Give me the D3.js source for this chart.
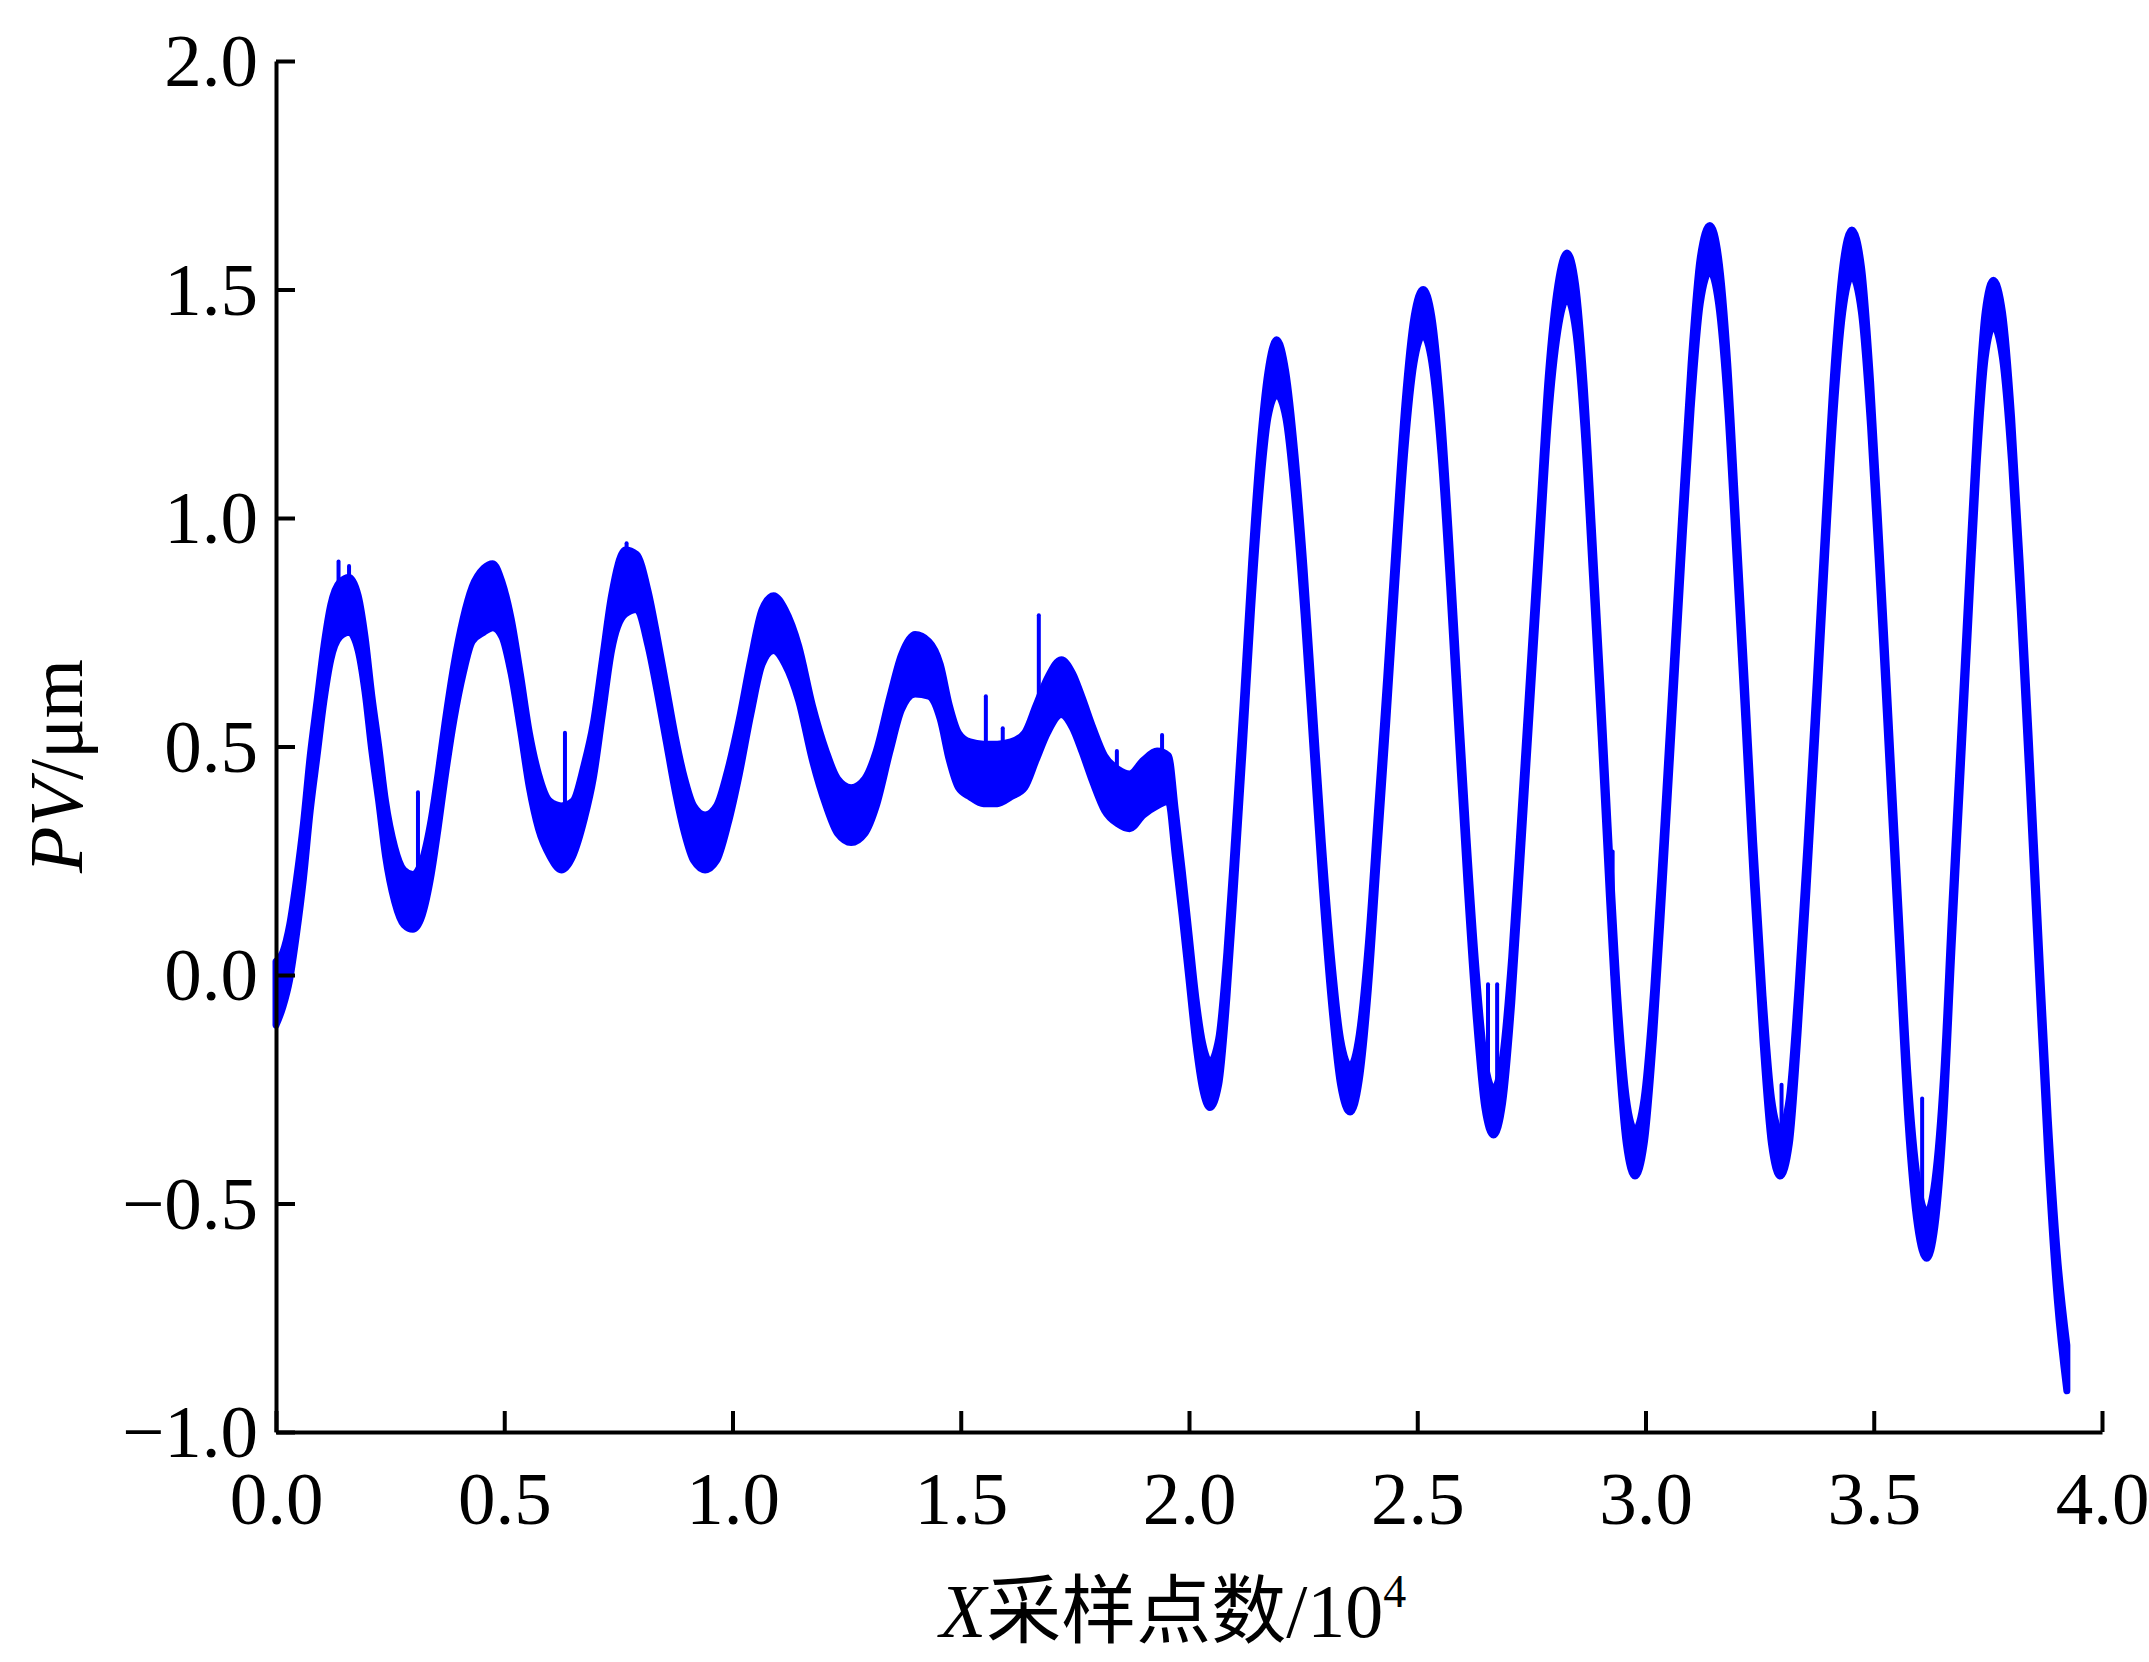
<!DOCTYPE html>
<html>
<head>
<meta charset="utf-8">
<script src="https://cdn.jsdelivr.net/npm/d3@7"></script>
<style>
  html, body { margin: 0; padding: 0; background: #fff; }
  text { font-family: "Liberation Serif", "Noto Sans CJK SC", serif; fill: #000; }
</style>
</head>
<body>
<div id="chart"></div>
<script>
// sample position (x 10^4), centre of the trace and half width of the noise band (um)
const sampleX = [
  0.000, 0.015, 0.030, 0.045, 0.060, 0.075, 0.090, 0.105, 0.120, 0.140, 0.160, 0.180, 0.195, 0.210, 0.225, 0.240,
  0.260, 0.280, 0.300, 0.320, 0.340, 0.355, 0.370, 0.390, 0.410, 0.430, 0.455, 0.475, 0.495, 0.515, 0.535, 0.555,
  0.575, 0.600, 0.625, 0.650, 0.675, 0.695, 0.715, 0.735, 0.765, 0.790, 0.815, 0.835, 0.855, 0.875, 0.895, 0.915,
  0.940, 0.965, 0.990, 1.015, 1.040, 1.065, 1.090, 1.115, 1.145, 1.175, 1.205, 1.230, 1.260, 1.290, 1.315, 1.345,
  1.370, 1.400, 1.430, 1.455, 1.475, 1.495, 1.520, 1.550, 1.580, 1.610, 1.640, 1.665, 1.690, 1.720, 1.745, 1.765,
  1.790, 1.815, 1.845, 1.870, 1.900, 1.930, 1.955, 1.970, 1.985, 2.000, 2.015, 2.030, 2.046, 2.065, 2.083, 2.100,
  2.119, 2.137, 2.155, 2.173, 2.192, 2.212, 2.232, 2.252, 2.272, 2.292, 2.312, 2.332, 2.353, 2.373, 2.393, 2.413,
  2.433, 2.453, 2.473, 2.493, 2.513, 2.532, 2.552, 2.571, 2.590, 2.609, 2.629, 2.648, 2.667, 2.687, 2.707, 2.727,
  2.747, 2.767, 2.787, 2.808, 2.828, 2.847, 2.865, 2.884, 2.903, 2.921, 2.940, 2.958, 2.977, 2.997, 3.018, 3.038,
  3.059, 3.079, 3.100, 3.120, 3.141, 3.160, 3.180, 3.199, 3.218, 3.237, 3.257, 3.276, 3.295, 3.315, 3.334, 3.354,
  3.374, 3.393, 3.413, 3.432, 3.452, 3.473, 3.493, 3.514, 3.534, 3.555, 3.575, 3.596, 3.616, 3.634, 3.653, 3.671,
  3.689, 3.707, 3.726, 3.744, 3.762, 3.782, 3.802, 3.822, 3.842, 3.862, 3.882, 3.902, 3.923
];
const pvMid = [
  -0.04, -0.01, 0.05, 0.15, 0.27, 0.42, 0.54, 0.66, 0.75, 0.80, 0.81, 0.77, 0.68, 0.55, 0.44, 0.32,
  0.22, 0.17, 0.16, 0.19, 0.28, 0.38, 0.49, 0.62, 0.72, 0.79, 0.82, 0.83, 0.80, 0.72, 0.60, 0.47,
  0.38, 0.32, 0.30, 0.32, 0.40, 0.49, 0.63, 0.77, 0.86, 0.86, 0.78, 0.68, 0.57, 0.46, 0.37, 0.31,
  0.29, 0.31, 0.39, 0.50, 0.63, 0.74, 0.77, 0.74, 0.66, 0.53, 0.43, 0.37, 0.35, 0.37, 0.43, 0.55,
  0.64, 0.68, 0.67, 0.62, 0.53, 0.47, 0.45, 0.44, 0.44, 0.45, 0.47, 0.53, 0.59, 0.63, 0.60, 0.55,
  0.48, 0.42, 0.39, 0.38, 0.41, 0.43, 0.43, 0.31, 0.18, 0.04, -0.10, -0.20, -0.24, -0.19, 0.00, 0.25,
  0.55, 0.85, 1.10, 1.27, 1.33, 1.27, 1.09, 0.84, 0.54, 0.24, -0.01, -0.19, -0.25, -0.18, 0.02, 0.31,
  0.60, 0.91, 1.20, 1.39, 1.45, 1.39, 1.19, 0.90, 0.57, 0.25, -0.04, -0.24, -0.30, -0.23, -0.01, 0.30,
  0.62, 0.94, 1.26, 1.46, 1.53, 1.46, 1.25, 0.92, 0.57, 0.22, -0.11, -0.32, -0.39, -0.32, -0.08, 0.24,
  0.60, 0.95, 1.29, 1.52, 1.59, 1.52, 1.29, 0.95, 0.60, 0.24, -0.09, -0.32, -0.39, -0.32, -0.08, 0.24,
  0.59, 0.94, 1.28, 1.50, 1.58, 1.50, 1.25, 0.88, 0.50, 0.10, -0.27, -0.50, -0.57, -0.50, -0.27, 0.10,
  0.45, 0.80, 1.16, 1.40, 1.47, 1.40, 1.17, 0.83, 0.44, 0.03, -0.36, -0.66, -0.86
];
const pvSpread = [
  0.07, 0.06, 0.06, 0.06, 0.06, 0.06, 0.06, 0.06, 0.06, 0.06, 0.06, 0.06, 0.06, 0.06, 0.06, 0.06,
  0.06, 0.06, 0.06, 0.06, 0.06, 0.06, 0.06, 0.06, 0.06, 0.06, 0.07, 0.07, 0.06, 0.06, 0.06, 0.06,
  0.06, 0.06, 0.07, 0.06, 0.06, 0.06, 0.06, 0.06, 0.07, 0.06, 0.06, 0.06, 0.06, 0.06, 0.06, 0.06,
  0.06, 0.06, 0.06, 0.06, 0.06, 0.06, 0.06, 0.06, 0.06, 0.06, 0.06, 0.06, 0.06, 0.06, 0.06, 0.06,
  0.06, 0.065, 0.06, 0.06, 0.06, 0.06, 0.06, 0.065, 0.065, 0.06, 0.06, 0.06, 0.06, 0.06, 0.06, 0.06,
  0.06, 0.06, 0.06, 0.06, 0.06, 0.06, 0.05, 0.05, 0.05, 0.05, 0.05, 0.05, 0.05, 0.05, 0.05, 0.05,
  0.05, 0.05, 0.05, 0.05, 0.06, 0.05, 0.05, 0.05, 0.05, 0.05, 0.05, 0.05, 0.05, 0.05, 0.05, 0.05,
  0.05, 0.05, 0.05, 0.05, 0.05, 0.05, 0.05, 0.05, 0.05, 0.05, 0.05, 0.05, 0.05, 0.05, 0.05, 0.05,
  0.05, 0.05, 0.05, 0.05, 0.05, 0.05, 0.05, 0.05, 0.05, 0.05, 0.05, 0.05, 0.05, 0.05, 0.05, 0.05,
  0.05, 0.05, 0.05, 0.05, 0.05, 0.05, 0.05, 0.05, 0.05, 0.05, 0.05, 0.05, 0.05, 0.05, 0.05, 0.05,
  0.05, 0.05, 0.05, 0.05, 0.05, 0.05, 0.05, 0.05, 0.05, 0.05, 0.05, 0.05, 0.05, 0.05, 0.05, 0.05,
  0.05, 0.05, 0.05, 0.05, 0.05, 0.05, 0.05, 0.05, 0.05, 0.05, 0.05, 0.05, 0.05
];

// isolated spikes in the trace
const spikeX    = [0.137, 0.160, 0.311, 0.633, 0.768, 1.555, 1.592, 1.671, 1.805, 1.842, 1.941, 2.655, 2.675, 2.928, 3.298, 3.606];
const spikeBase = [0.80, 0.81, 0.17, 0.30, 0.86, 0.44, 0.44, 0.54, 0.44, 0.39, 0.43, -0.27, -0.28, 0.00, -0.39, -0.53];
const spikeTop  = [0.905, 0.895, 0.40, 0.53, 0.945, 0.61, 0.54, 0.787, 0.49, 0.49, 0.525, -0.02, -0.02, 0.27, -0.24, -0.27];

const xTicks = [0, 0.5, 1.0, 1.5, 2.0, 2.5, 3.0, 3.5, 4.0];
const yTicks = [-1.0, -0.5, 0, 0.5, 1.0, 1.5, 2.0];

const width = 2149, height = 1662;
const plotLeft = 276, plotRight = 2102, plotTop = 61, plotBottom = 1432;

const svg = d3.select("#chart").append("svg")
    .attr("width", width)
    .attr("height", height);

const x = d3.scaleLinear().domain([0, 4]).range([plotLeft, plotRight]);
const y = d3.scaleLinear().domain([-1, 2]).range([plotBottom, plotTop]);

const fmt = v => (v < 0 ? "\u2212" : "") + Math.abs(v).toFixed(1);

// trace
const pts = sampleX.map((d, i) => ({ x: d, lo: pvMid[i] - pvSpread[i], hi: pvMid[i] + pvSpread[i] }));

const band = d3.area()
    .x(d => x(d.x))
    .y0(d => y(d.lo))
    .y1(d => y(d.hi))
    .curve(d3.curveMonotoneX);

svg.append("path")
    .datum(pts)
    .attr("d", band)
    .attr("fill", "#0000ff")
    .attr("stroke", "#0000ff")
    .attr("stroke-width", 7)
    .attr("stroke-linejoin", "round");

svg.selectAll(".spike")
    .data(spikeX)
    .enter()
    .append("line")
    .attr("class", "spike")
    .attr("x1", d => x(d))
    .attr("x2", d => x(d))
    .attr("y1", (d, i) => y(spikeBase[i]))
    .attr("y2", (d, i) => y(spikeTop[i]))
    .attr("stroke", "#0000ff")
    .attr("stroke-width", 4)
    .attr("stroke-linecap", "round");

// axes
const xAxis = svg.append("g")
    .attr("transform", `translate(0,${plotBottom})`)
    .call(d3.axisBottom(x).tickValues(xTicks).tickFormat(fmt).tickSizeInner(-21).tickSizeOuter(0).tickPadding(0));

const yAxis = svg.append("g")
    .attr("transform", `translate(${plotLeft},0)`)
    .call(d3.axisLeft(y).tickValues(yTicks).tickFormat(fmt).tickSizeInner(-19).tickSizeOuter(0).tickPadding(0));

[xAxis, yAxis].forEach(g => {
  g.select(".domain").attr("stroke", "#000").attr("stroke-width", 4);
  g.selectAll(".tick line").attr("stroke", "#000").attr("stroke-width", 4);
  g.selectAll(".tick text")
      .attr("font-family", "Liberation Serif")
      .attr("font-size", 75)
      .attr("fill", "#000");
});

xAxis.selectAll(".tick text").attr("y", 92).attr("dy", null);
yAxis.selectAll(".tick text").attr("x", -18).attr("dy", "0.33em");

// axis titles
const xt = svg.append("text")
    .attr("x", 1173)
    .attr("y", 1637)
    .attr("text-anchor", "middle")
    .attr("font-size", 76);
xt.append("tspan").attr("font-style", "italic").text("X");
xt.append("tspan").attr("font-family", "Noto Sans CJK SC").attr("font-size", 75).text("采样点数");
xt.append("tspan").text("/10");
xt.append("tspan").attr("font-size", 46).attr("dy", -30).text("4");

const yt = svg.append("text")
    .attr("transform", "translate(82,766) rotate(-90)")
    .attr("text-anchor", "middle")
    .attr("font-size", 76);
yt.append("tspan").attr("font-style", "italic").text("PV");
yt.append("tspan").text("/\u03bcm");
</script>
</body>
</html>
